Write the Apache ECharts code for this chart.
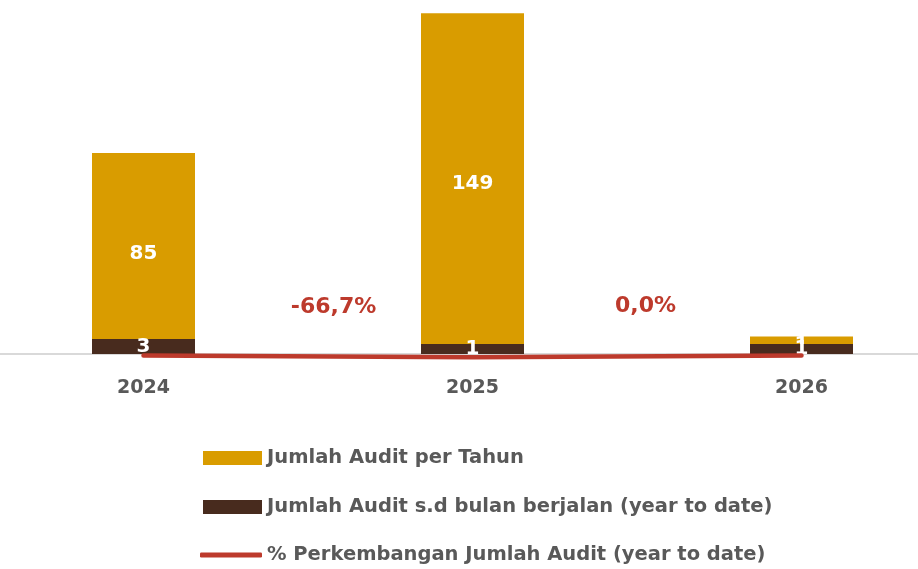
<!DOCTYPE html>
<html>
<head>
<meta charset="utf-8">
<script src="https://cdn.jsdelivr.net/npm/echarts@6/dist/echarts.min.js"></script>
<style>
  html, body { margin: 0; padding: 0; background: #fff; overflow: hidden; }
  /* the plot in the original runs past both edges, so the canvas is wider than the window */
  #chart { position: absolute; left: -21px; top: 0; width: 987px; height: 569px; }
</style>
</head>
<body>
<div id="chart"></div>
<script>
// data
const years = ["2024", "2025", "2026"];
const auditPerYear = [85, 149, 1];
const auditYtd = [3, 1, 1];
const growthYtd = [0, -66.7, 0.0];
const growthShown = [false, true, true];

// the % labels sit between the years in the original, so nudge them left
const growthLabelOffset = [[0, 0], [-139, -50], [-156, -49]];

const FONT = "DejaVu Sans";
const GREY = "#595959";
const YELLOW = "#d99c00";
const BROWN = "#482b1e";
const RED = "#bd3a2c";

const NAME_YEAR = "Jumlah Audit per Tahun";
const NAME_YTD = "Jumlah Audit s.d bulan berjalan (year to date)";
const NAME_PCT = "% Perkembangan Jumlah Audit (year to date)";

function pct(v) {
  return v.toFixed(1).replace(".", ",") + "%";
}

const legendText = { fontFamily: FONT, fontSize: 19.5, fontWeight: "bold", color: GREY };

function legendRow(name, top, icon, w, h) {
  return {
    data: [{ name: name, icon: icon }],
    left: 224 - (w - 59),
    top: top,
    padding: 0,
    itemWidth: w,
    itemHeight: h,
    textStyle: legendText,
  };
}

const chart = echarts.init(document.getElementById("chart"));

chart.setOption({
  animation: false,
  textStyle: { fontFamily: FONT },
  grid: { left: 0, right: 0, top: 11, bottom: 215 },
  legend: [
    legendRow(NAME_YEAR, 448, "rect", 59, 14),
    legendRow(NAME_YTD, 497, "rect", 59, 14),
    legendRow(NAME_PCT, 545, "roundRect", 62, 5),
  ],
  xAxis: {
    type: "category",
    data: years,
    axisLine: { onZero: false, lineStyle: { color: "#d9d9d9", width: 2 } },
    axisTick: { show: false },
    axisLabel: { margin: 25, fontFamily: FONT, fontSize: 19, fontWeight: "bold", color: GREY },
  },
  yAxis: [
    { type: "value", show: false, min: -7, max: 150, startValue: -7, splitLine: { show: false } },
    { type: "value", show: false, min: -3, max: 134, startValue: -3, splitLine: { show: false } },
    { type: "value", show: false, min: 60, max: 13500, splitLine: { show: false } },
  ],
  series: [
    {
      name: NAME_YEAR,
      type: "bar",
      yAxisIndex: 0,
      data: auditPerYear,
      barWidth: 103,
      barGap: "-100%",
      itemStyle: { color: YELLOW },
      label: { show: true, position: "inside", fontFamily: FONT, fontSize: 20, fontWeight: "bold", color: "#fff" },
      z: 2,
    },
    {
      name: NAME_YTD,
      type: "bar",
      yAxisIndex: 1,
      data: auditYtd,
      barWidth: 103,
      barGap: "-100%",
      itemStyle: { color: BROWN },
      label: { show: true, position: "inside", fontFamily: FONT, fontSize: 20, fontWeight: "bold", color: "#fff" },
      z: 3,
    },
    {
      name: NAME_PCT,
      type: "line",
      yAxisIndex: 2,
      clip: false,
      symbol: "circle",
      symbolSize: 0.1,
      lineStyle: { color: RED, width: 4.5, cap: "round" },
      itemStyle: { color: RED },
      z: 4,
      data: growthYtd.map((v, i) => ({
        value: v,
        label: {
          show: growthShown[i],
          position: "inside",
          offset: growthLabelOffset[i],
          formatter: () => pct(v),
          fontFamily: FONT,
          fontSize: 22,
          fontWeight: "bold",
          color: RED,
        },
      })),
    },
  ],
});
</script>
</body>
</html>
